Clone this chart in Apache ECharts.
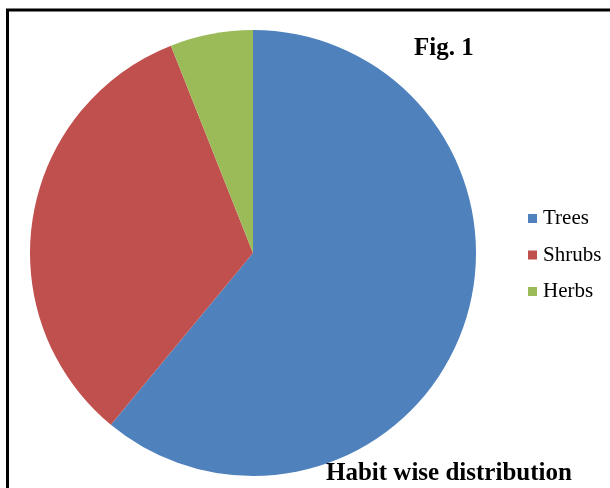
<!DOCTYPE html>
<html>
<head>
<meta charset="utf-8">
<script src="https://cdn.jsdelivr.net/npm/echarts@6/dist/echarts.min.js"></script>
<style>html,body{margin:0;padding:0;background:#fff;}#c{width:610px;height:488px;}</style>
</head>
<body>
<div id="c"></div>
<script>
const categories = ["Trees", "Shrubs", "Herbs"];
const values = [61, 33, 6];
const colors = ["#4F81BD", "#C0504D", "#9BBB59"];

const chart = echarts.init(document.getElementById('c'));
chart.setOption({
  animation: false,
  color: colors,
  title: [
    { text: "Fig. 1", left: 414, top: 36, padding: 0,
      textStyle: { fontFamily: "Liberation Serif", fontWeight: "bold", fontSize: 25, color: "#000" } },
    { text: "Habit wise distribution", left: 326, top: 461, padding: 0,
      textStyle: { fontFamily: "Liberation Serif", fontWeight: "bold", fontSize: 25, color: "#000" } }
  ],
  legend: {
    orient: "vertical",
    left: 528, top: 208, padding: 0,
    itemWidth: 9, itemHeight: 9, itemGap: 15.5,
    icon: "rect",
    data: categories,
    textStyle: { fontFamily: "Liberation Serif", fontSize: 21, color: "#000", padding: [0,0,0,1] }
  },
  graphic: [
    { type: "rect", shape: { x: 7.5, y: 10, width: 800, height: 700 },
      style: { fill: "none", stroke: "#000", lineWidth: 3 }, z: 100 }
  ],
  series: [{
    type: "pie",
    center: [253, 253],
    radius: 223,
    startAngle: 90,
    clockwise: true,
    label: { show: false },
    labelLine: { show: false },
    itemStyle: { borderWidth: 0 },
    emphasis: { disabled: true },
    data: categories.map((c, i) => ({ name: c, value: values[i] }))
  }]
});
</script>
</body>
</html>
